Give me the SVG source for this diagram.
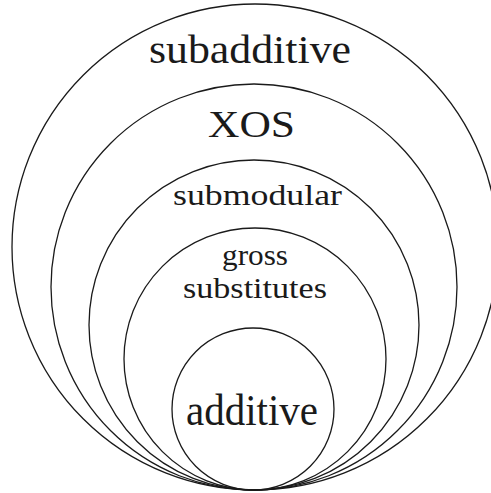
<svg xmlns="http://www.w3.org/2000/svg" width="491" height="493" viewBox="0 0 491 493">
<style>
  .c { fill: none; stroke: #1a1a1a; stroke-width: 1.3; }
  .t { font-family: "Liberation Serif", "DejaVu Serif", serif; fill: #1a1a1a; text-anchor: middle; }
</style>
<rect width="491" height="493" fill="#ffffff"/>
<g id="subadditive">
  <circle class="c" cx="255" cy="247" r="243"/>
  <text class="t" x="250" y="63" font-size="40" textLength="202" lengthAdjust="spacingAndGlyphs">subadditive</text>
</g>
<g id="xos">
  <circle class="c" cx="254" cy="287" r="203"/>
  <text class="t" x="251.5" y="137" font-size="38" textLength="87" lengthAdjust="spacingAndGlyphs">XOS</text>
</g>
<g id="submodular">
  <circle class="c" cx="254" cy="325" r="165"/>
  <text class="t" x="257.5" y="205" font-size="30" textLength="169" lengthAdjust="spacingAndGlyphs">submodular</text>
</g>
<g id="gross-substitutes">
  <circle class="c" cx="255" cy="359" r="131"/>
  <text class="t" x="255" y="265" font-size="30" textLength="66" lengthAdjust="spacingAndGlyphs">gross</text>
  <text class="t" x="255" y="298" font-size="30" textLength="144" lengthAdjust="spacingAndGlyphs">substitutes</text>
</g>
<g id="additive">
  <circle class="c" cx="253" cy="409" r="81"/>
  <text class="t" x="252" y="425" font-size="44" textLength="132" lengthAdjust="spacingAndGlyphs">additive</text>
</g>
<g id="connectors"></g>
</svg>
